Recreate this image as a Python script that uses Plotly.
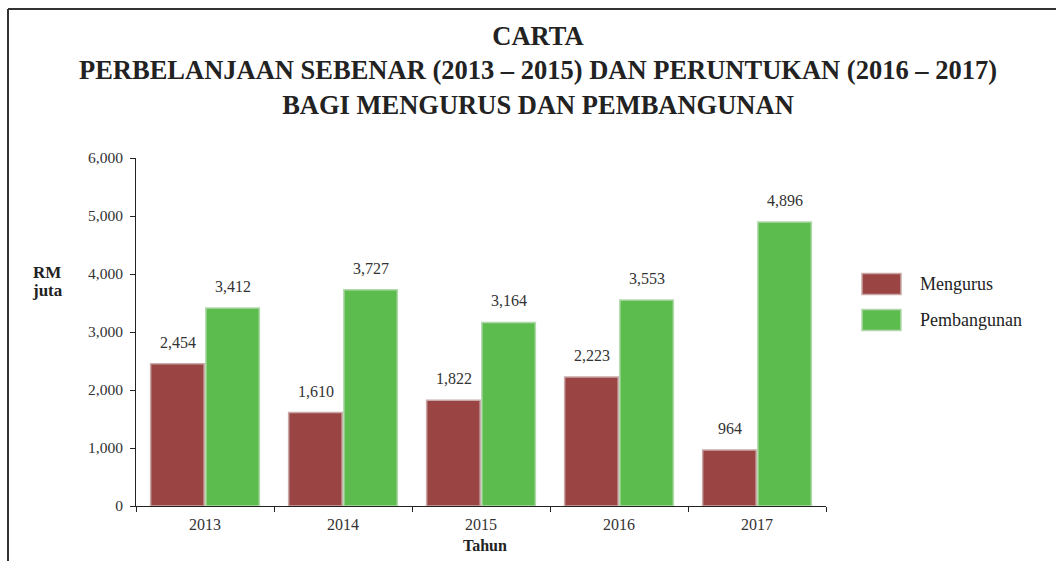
import plotly.graph_objects as go

years = ["2013", "2014", "2015", "2016", "2017"]
mengurus = [2454, 1610, 1822, 2223, 964]
pembangunan = [3412, 3727, 3164, 3553, 4896]
series_names = ["Mengurus", "Pembangunan"]
colors = ["#9a4543", "#5dbc4e"]
edge_colors = ["#c9a9a8", "#b3d8ad"]
y_ticks = [0, 1000, 2000, 3000, 4000, 5000, 6000]

FONT = "Liberation Serif, Times New Roman, serif"

W, H = 1056, 561
L, R, T, B = 136, 230, 158, 55
pw, ph = W - L - R, H - T - B


def px(x):
    return (x - L) / pw


def py(y):
    return (H - B - y) / ph


fig = go.Figure()
for name, vals, c, ec in zip(series_names, [mengurus, pembangunan], colors, edge_colors):
    fig.add_trace(go.Bar(
        x=years, y=vals, name=name,
        marker=dict(color=c, line=dict(color=ec, width=1.5)),
        showlegend=False,
    ))

annotations = []
offset = 27.5
for vals, sh in [(mengurus, -offset), (pembangunan, offset)]:
    for i, v in enumerate(vals):
        annotations.append(dict(
            x=i, y=v, xref="x", yref="y", text=f"{v:,}", showarrow=False,
            xshift=sh, yshift=11, yanchor="bottom",
            font=dict(family=FONT, size=16, color="#333333"),
        ))

# title
annotations.append(dict(
    x=px(538), y=py(19), xref="paper", yref="paper",
    text="<b>CARTA<br>PERBELANJAAN SEBENAR (2013 – 2015) DAN PERUNTUKAN (2016 – 2017)<br>BAGI MENGURUS DAN PEMBANGUNAN</b>",
    showarrow=False, xanchor="center", yanchor="top",
    font=dict(family=FONT, size=26.5, color="#222222"),
))
# axis labels
for txt, yy in [("RM", 272), ("juta", 290)]:
    annotations.append(dict(
        x=px(47), y=py(yy), xref="paper", yref="paper", text=f"<b>{txt}</b>", showarrow=False,
        xanchor="center", yanchor="middle",
        font=dict(family=FONT, size=17, color="#222222"),
    ))
annotations.append(dict(
    x=px(485), y=py(545), xref="paper", yref="paper", text="<b>Tahun</b>", showarrow=False,
    xanchor="center", yanchor="middle",
    font=dict(family=FONT, size=16, color="#222222"),
))

shapes = []
for i, (name, c, ec) in enumerate(zip(series_names, colors, edge_colors)):
    cy = 284 + 36 * i
    shapes.append(dict(type="rect", xref="paper", yref="paper",
                       x0=px(862), x1=px(901), y0=py(cy - 10.5), y1=py(cy + 10.5),
                       fillcolor=c, line=dict(color=ec, width=1.5)))
    annotations.append(dict(x=px(918), y=py(cy), xref="paper", yref="paper",
                            text=name, showarrow=False, xanchor="left", yanchor="middle",
                            font=dict(family=FONT, size=18, color="#222222")))

shapes.append(dict(type="line", xref="paper", yref="paper", x0=px(8), x1=px(1056), y0=py(9), y1=py(9),
                   line=dict(color="#333333", width=2)))
shapes.append(dict(type="line", xref="paper", yref="paper", x0=px(8), x1=px(8), y0=py(9), y1=py(561),
                   line=dict(color="#333333", width=2)))

fig.update_layout(
    width=W, height=H,
    margin=dict(l=L, r=R, t=T, b=B),
    paper_bgcolor="white", plot_bgcolor="white",
    barmode="group", bargap=0.2, bargroupgap=0.03,
    annotations=annotations, shapes=shapes,
    font=dict(family=FONT, size=15, color="#333333"),
    xaxis=dict(type="category", range=[-0.5, len(years) - 0.5], showline=True, linecolor="#222222",
               linewidth=1, ticks="outside", tickson="boundaries", ticklen=5, tickcolor="#222222",
               showgrid=False, tickangle=0, ticklabelstandoff=4,
               tickfont=dict(family=FONT, size=16, color="#333333")),
    yaxis=dict(range=[0, 6000], tickvals=y_ticks, tickformat=",", showline=True, linecolor="#222222",
               linewidth=1, ticks="outside", ticklen=5, tickcolor="#222222", showgrid=False, zeroline=False,
               ticklabelstandoff=4,
               tickfont=dict(family=FONT, size=15.5, color="#333333")),
)

fig.write_html("out.html")
